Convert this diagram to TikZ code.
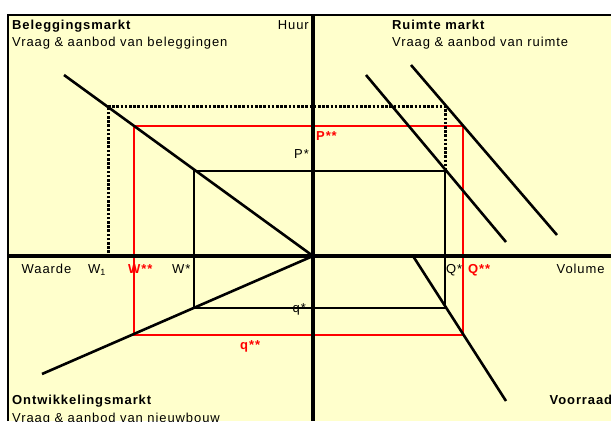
\documentclass[tikz,border=0pt]{standalone}
\usepackage{fontspec}
\setmainfont{Liberation Sans}[LetterSpace=7]
\definecolor{bg}{HTML}{FFFFCC}
\begin{document}
\begin{tikzpicture}[x=1pt,y=-1pt,
  lbl/.style={inner sep=0pt, anchor=base west, font=\fontsize{13}{15}\selectfont},
  lblr/.style={lbl, anchor=base east},
  ttl/.style={lbl, font=\fontsize{13}{15}\selectfont\bfseries},
  rlbl/.style={ttl, text=red},
  axisline/.style={line width=3.5pt},
  curve/.style={line width=2.6pt},
  boxline/.style={line width=2.6pt},
  rbox/.style={line width=2.6pt, red},
  dots/.style={line width=3pt, dash pattern=on 2.6pt off 1.6pt}]
\useasboundingbox (0,0) rectangle (611,421);
\clip (0,0) rectangle (611,421);
\fill[bg] (8,15) rectangle (611,421);
\draw[line width=2.6pt] (8,421) -- (8,15) -- (611,15);
% coordinates
\coordinate (O) at (313,256);
\coordinate (axT) at (313,15);
\coordinate (axB) at (313,421);
\coordinate (axL) at (8,256);
\coordinate (axR) at (611,256);
\coordinate (ulS) at (64,75);
\coordinate (llE) at (42,374);
\coordinate (aS) at (366,75);
\coordinate (aE) at (506,242);
\coordinate (bS) at (411,65);
\coordinate (bE) at (557,235);
\coordinate (lrS) at (413,256);
\coordinate (lrE) at (506,401);
\coordinate (d1) at (108,253);
\coordinate (d2) at (108,106);
\coordinate (d3) at (445,106);
\coordinate (d4) at (445,171);
\coordinate (k1) at (194,171);
\coordinate (k2) at (445,308);
\coordinate (r1) at (134,126);
\coordinate (r2) at (463,335);
% red rectangle
\draw[rbox] (r1) rectangle (r2);
% black box
\draw[boxline] (k1) rectangle (k2);
% dotted
\draw[dots] (d1) -- (d2) -- (d3) -- (d4);
% curves
\draw[curve] (ulS) -- (O);
\draw[curve] (O) -- (llE);
\draw[curve] (aS) -- (aE);
\draw[curve] (bS) -- (bE);
\draw[curve] (lrS) -- (lrE);
% axes
\draw[axisline] (axT) -- (axB);
\draw[axisline] (axL) -- (axR);
% labels
\node[ttl] (t1) at (12,29.5) {Beleggingsmarkt};
\node[lbl] (s1) at (12,46.7) {Vraag \& aanbod van beleggingen};
\node[lblr] (huur) at (309,29.5) {Huur};
\node[ttl] (t2) at (392,29.5) {Ruimte markt};
\node[lbl] (s2) at (392,46.7) {Vraag \& aanbod van ruimte};
\node[rlbl] (pss) at (316,140.5) {P**};
\node[lbl] (ps) at (294,158) {P*};
\node[lbl] (waarde) at (21.5,273.3) {Waarde};
\node[lbl] (w1) at (88,273.3) {W\raisebox{-2.5pt}{\fontsize{9}{10}\selectfont 1}};
\node[rlbl] (wss) at (128,273.3) {W**};
\node[lbl] (ws) at (172,273.3) {W*};
\node[lbl] (qs) at (292.5,312) {q*};
\node[rlbl] (qss) at (240,349.5) {q**};
\node[lbl] (Qs) at (446,273.3) {Q*};
\node[rlbl] (Qss) at (468,273.3) {Q**};
\node[lbl] (vol) at (556.5,273.3) {Volume};
\node[ttl] (t3) at (12,404) {Ontwikkelingsmarkt};
\node[lbl] (s3) at (12,422.5) {Vraag \& aanbod van nieuwbouw};
\node[ttl] (t4) at (549.5,404) {Voorraad};
\end{tikzpicture}
\end{document}
